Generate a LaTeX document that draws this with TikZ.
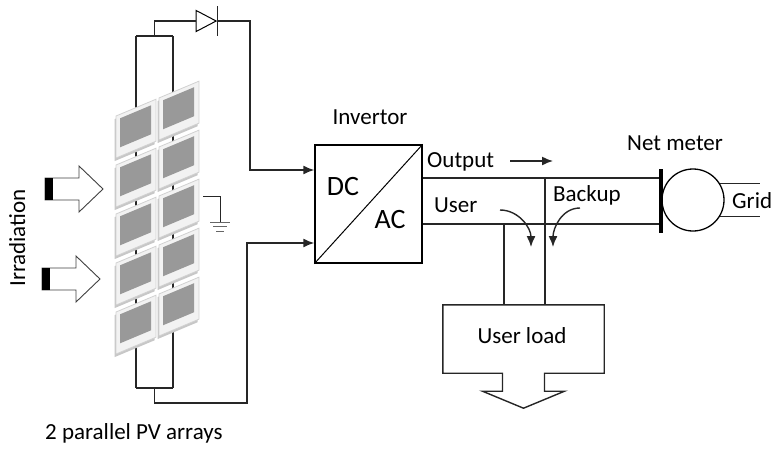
\documentclass[tikz,border=0pt]{standalone}
\usepackage{fontspec}
\setmainfont{Carlito}
\usetikzlibrary{arrows.meta,calc,shapes.geometric}

\begin{document}
\begin{tikzpicture}[x=1pt, y=-1pt, font=\fontsize{23}{27}\selectfont,
  wire/.style={line width=1.4pt, black!85},
  tip/.style={-{Latex[length=11pt,width=9pt]}},
  lbl/.style={anchor=base west, inner sep=0},
  panel/.style={fill=black!5, draw=black!18, line width=0.8pt},
  cell/.style={fill=black!40},
  sun/.style={draw=black!75, fill=white, line width=0.9pt, line join=miter}]
\useasboundingbox (0,0) rectangle (773,448);

% string wiring behind the panels
\coordinate (ltop) at (136,36); \coordinate (rtop) at (173,36);
\coordinate (lbot) at (136,388); \coordinate (rbot) at (173,388);
\draw[wire] (ltop) -- (lbot); \draw[wire] (rtop) -- (rbot);
\draw[wire] (ltop) -- (rtop); \draw[wire] (lbot) -- (rbot);

% two tilted columns of PV panels
\begin{scope}[shift={(116,116)}, yslant=0.42]
\foreach \py in {0,49,98,147,196}
  \foreach \px in {0,43} {
    \fill[black!22] (\px-1.5,\py+2.5) rectangle ++(40,42);
    \draw[panel] (\px,\py) rectangle ++(40,42);
    \fill[cell] (\px+4,\py+4) rectangle ++(31,29);
  }
\end{scope}

% irradiation arrows
\foreach \ax/\ay in {45/189, 42/279} {
  \draw[sun] (\ax,\ay-11) -- ++(34,0) -- ++(0,-12) -- ++(24,23) -- ++(-24,23)
    -- ++(0,-12) -- ++(-34,0) -- cycle;
  \fill[black] (\ax,\ay-11) rectangle ++(8,22);
}
\node[rotate=90, anchor=base, inner sep=0] (irr) at (25,238) {Irradiation};
\node[lbl] (pvtxt) at (45,439) {2 parallel PV arrays};

% ground
\coordinate (gtap) at (203,196); \coordinate (gnd) at (220,222);
\draw[wire, line width=1pt] (gtap) -| (gnd);
\draw[black!60, line width=1pt] ([xshift=-10]gnd) -- ([xshift=10]gnd);
\draw[black!60, line width=1pt] ([xshift=-7,yshift=-4.5]gnd) -- ([xshift=7,yshift=-4.5]gnd);
\draw[black!60, line width=1pt] ([xshift=-4,yshift=-9]gnd) -- ([xshift=4,yshift=-9]gnd);

% blocking diode
\node[draw, isosceles triangle, isosceles triangle stretches, minimum height=20,
  minimum width=21, inner sep=0, line width=1pt] (diode) at (202.5,21) {};
\draw[wire] ([yshift=15]diode.apex) -- ([yshift=-15]diode.apex);

% inverter
\node[draw, line width=1.4pt, minimum width=107, minimum height=118, inner sep=0]
  (inv) at (368.5,204) {};
\draw[line width=1pt] (inv.south west) -- (inv.north east);
\node[anchor=base, inner sep=0] (invtxt) at (370,124) {Invertor};
\node[anchor=base, inner sep=0, font=\fontsize{28}{30}\selectfont] (dc) at (343,195) {DC};
\node[anchor=base, inner sep=0, font=\fontsize{28}{30}\selectfont] (ac) at (390,228) {AC};

\coordinate (plus) at (250,170); \coordinate (minus) at (247,243);
\draw[wire] ($(ltop)!.5!(rtop)$) |- (diode.west);
\draw[wire, tip] (diode.apex) -| (plus) -- (inv.west |- plus);
\draw[wire, tip] ($(lbot)!.5!(rbot)$) -- ++(0,15) -| (minus) -- (inv.west |- minus);

% net meter and grid
\node[fill=black, minimum width=4.5, minimum height=64, inner sep=0] (bar) at (661,200.5) {};
\node[circle, draw, line width=1.3pt, minimum size=62, inner sep=0] (meter) at (693,200) {};
\node[lbl] (nettxt) at (627,150) {Net meter};
\coordinate (gridend) at (760,200);
\draw[wire] (meter.31) -- (gridend |- meter.31);
\draw[wire] (meter.-31) -- (gridend |- meter.-31);
\node[lbl] (gridtxt) at (732,208) {Grid};

\coordinate (outy) at (0,178); \coordinate (usery) at (0,224);
\draw[wire] (inv.east |- outy) -- (bar.west |- outy);
\draw[wire] (inv.east |- usery) -- (bar.west |- usery);
\node[lbl] (outtxt) at (427,167) {Output};
\node[lbl] (usertxt) at (434,212) {User};
\node[lbl] (backtxt) at (553,201) {Backup};
\coordinate (fl) at (510,161); \coordinate (fr) at (553,161);
\draw[wire, tip] (fl) -- (fr);

% user load
\node[minimum width=161, minimum height=68, inner sep=0] (load) at (523.5,339) {};
\draw[wire] (load.north west) -- (load.north east) -- (load.south east)
  -- ([xshift=21]load.south) -- ++(0,18) -- ++(20,0) -- ++(-41,17) -- ++(-41,-17)
  -- ++(20,0) -- ++(0,-18) -- (load.south west) -- cycle;
\node[anchor=base, inner sep=0] (loadtxt) at (522,343) {User load};
\coordinate (tapu) at (504,224); \coordinate (tapb) at (545,178);
\draw[wire] (tapu) -- (tapu |- load.north);
\draw[wire] (tapb) -- (tapb |- load.north);

% flow to the user and from backup
\coordinate (us) at (500,210); \coordinate (ue) at (531,247);
\coordinate (bs) at (580,208); \coordinate (be) at (553,247);
\draw[wire, tip] (us) to[out=0, in=90] (ue);
\draw[wire, tip] (bs) to[out=180, in=90] (be);
\end{tikzpicture}
\end{document}
